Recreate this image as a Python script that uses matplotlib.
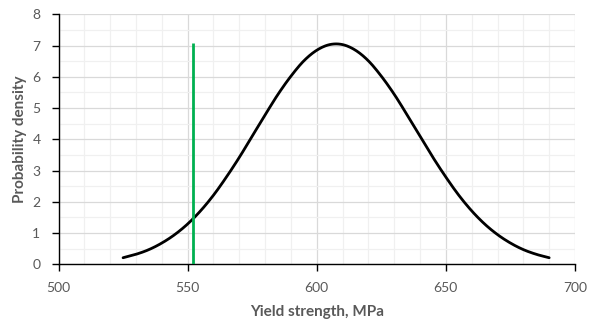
import numpy as np
import matplotlib.pyplot as plt
from matplotlib.ticker import MultipleLocator

plt.rcParams['font.family'] = ['Lato', 'DejaVu Sans']

# Normal curve (5 MPa steps)
strength = [525, 530, 535, 540, 545, 550, 555, 560, 565, 570, 575, 580,
            585, 590, 595, 600, 605, 610, 615, 620, 625, 630, 635, 640,
            645, 650, 655, 660, 665, 670, 675, 680, 685, 690]
density = [0.21, 0.32, 0.47, 0.68, 0.95, 1.29, 1.71, 2.21, 2.79, 3.42, 4.10, 4.78,
           5.44, 6.02, 6.51, 6.85, 7.03, 7.03, 6.85, 6.51, 6.02, 5.44, 4.78, 4.10,
           3.42, 2.79, 2.21, 1.71, 1.29, 0.95, 0.68, 0.47, 0.32, 0.21]

# vertical marker line
marker_x = [552, 552]
marker_y = [0, 7.07]


def smooth(x, y, n=12):
    # Catmull-Rom through the points, like Excel's "smoothed line"
    p = np.column_stack([x, y]).astype(float)
    p = np.vstack([2 * p[0] - p[1], p, 2 * p[-1] - p[-2]])
    out = []
    t = np.linspace(0, 1, n, endpoint=False)[:, None]
    for i in range(1, len(p) - 2):
        p0, p1, p2, p3 = p[i - 1], p[i], p[i + 1], p[i + 2]
        seg = 0.5 * ((2 * p1) + (-p0 + p2) * t + (2 * p0 - 5 * p1 + 4 * p2 - p3) * t ** 2
                     + (-p0 + 3 * p1 - 3 * p2 + p3) * t ** 3)
        out.append(seg)
    out.append(p[-2][None, :])
    out = np.vstack(out)
    return out[:, 0], out[:, 1]


fig = plt.figure(figsize=(5.91, 3.22), dpi=100)
ax = fig.add_axes([58.5 / 591, 1 - 264.3 / 322, (575 - 58.5) / 591, 250 / 322])

sx, sy = smooth(strength, density)
ax.plot(sx, sy, color='black', lw=2, solid_capstyle='round', zorder=3)
ax.plot(marker_x, marker_y, color='#00b050', lw=2, solid_capstyle='butt', zorder=4)

ax.set_xlim(500, 700)
ax.set_ylim(0, 8)
ax.xaxis.set_major_locator(MultipleLocator(50))
ax.xaxis.set_minor_locator(MultipleLocator(10))
ax.yaxis.set_major_locator(MultipleLocator(1))
ax.yaxis.set_minor_locator(MultipleLocator(0.5))

ax.grid(True, which='major', color='#d9d9d9', lw=0.9, zorder=0)
ax.grid(True, which='minor', color='#f0f0f0', lw=0.9, zorder=0)
ax.set_axisbelow(True)

for s in ['top', 'right']:
    ax.spines[s].set_visible(False)
for s in ['left', 'bottom']:
    ax.spines[s].set_color('#000000')
    ax.spines[s].set_linewidth(1.0)

ax.tick_params(which='major', direction='out', length=5, width=1, color='black',
               labelsize=10, labelcolor='#595959')
ax.tick_params(axis='x', which='major', pad=8)
ax.tick_params(axis='y', which='major', pad=8)
ax.tick_params(which='minor', length=0)

ax.set_xlabel('Yield strength, MPa', fontsize=11, fontweight='bold', color='#595959', labelpad=8)
ax.set_ylabel('Probability density', fontsize=11, fontweight='bold', color='#595959', labelpad=4)

fig.savefig('out.png', dpi=100)
